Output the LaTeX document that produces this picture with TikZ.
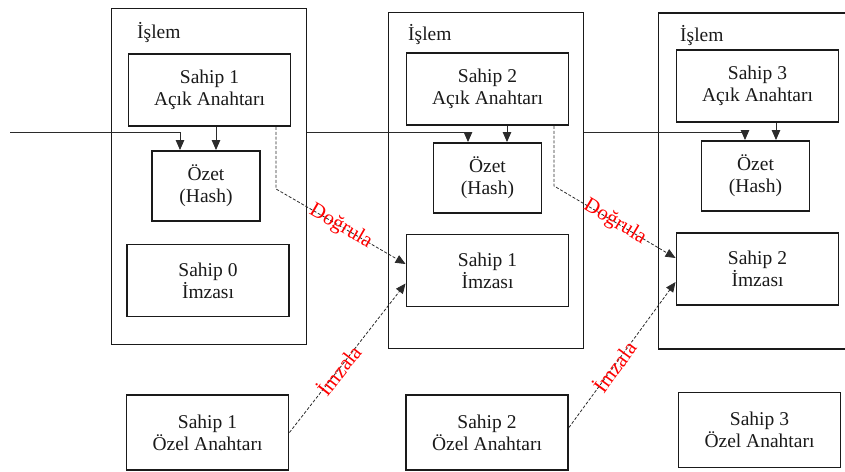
\documentclass[tikz,border=0pt]{standalone}
\usepackage{fontspec}
\setmainfont{Liberation Serif}
\usetikzlibrary{arrows.meta,calc}
\definecolor{txink}{HTML}{1A1A1A}
\definecolor{txline}{HTML}{2B2B2B}
\definecolor{txsign}{HTML}{FF0000}
\tikzset{
  txframe/.style={
    draw=txink,
    line width=1.9pt,
    minimum width=195pt,
    minimum height=336pt,
    inner sep=0pt
  },
  txkey/.style={
    draw=txink,
    line width=1.9pt,
    fill=white,
    align=center,
    minimum width=162pt,
    minimum height=72pt,
    inner sep=0pt,
    font=\fontsize{19.5}{22}\selectfont,
    text=txink
  },
  txhash/.style={txkey, minimum width=108pt, minimum height=70pt},
  txtitle/.style={
    anchor=base west,
    inner sep=0pt,
    font=\fontsize{19.5}{22}\selectfont,
    text=txink
  },
  txarrow/.style={
    -{Triangle[length=10pt,width=8.5pt]},
    line width=0.9pt,
    color=txline
  },
  txdash/.style={
    txarrow,
    line width=0.8pt,
    dash pattern=on 3pt off 1.8pt
  },
  txlabel/.style={
    sloped,
    inner sep=0pt,
    font=\fontsize{21}{24}\selectfont,
    text=txsign
  }
}
\begin{document}
\begin{tikzpicture}[x=1pt,y=-1pt]
  \useasboundingbox (0,0) rectangle (845,471);
  \clip (0,0) rectangle (845,471);

  % transactions
  \node[txframe] (t1) at (209,176.5) {};
  \node[txframe] (t2) at (486,180.5) {};
  \node[txframe] (t3) at (756,181) {};
  \node[txtitle] (lbl1) at (137,38) {İşlem};
  \node[txtitle] (lbl2) at (408,40) {İşlem};
  \node[txtitle] (lbl3) at (680,41) {İşlem};

  \node[txkey] (pub1) at (209.5,90) {Sahip 1\\Açık Anahtarı};
  \node[txhash] (hash1) at (206,186) {Özet\\(Hash)};
  \node[txkey] (sig1) at (208,280.5) {Sahip 0\\İmzası};

  \node[txkey] (pub2) at (487.5,89) {Sahip 2\\Açık Anahtarı};
  \node[txhash] (hash2) at (487.5,178) {Özet\\(Hash)};
  \node[txkey] (sig2) at (487.5,270.5) {Sahip 1\\İmzası};

  \node[txkey] (pub3) at (757.5,86) {Sahip 3\\Açık Anahtarı};
  \node[txhash] (hash3) at (755.5,176) {Özet\\(Hash)};
  \node[txkey] (sig3) at (757.5,269) {Sahip 2\\İmzası};

  % private keys
  \node[txkey, minimum height=75pt] (priv1) at (207.5,432.5) {Sahip 1\\Özel Anahtarı};
  \node[txkey, minimum height=75pt] (priv2) at (487,432.5) {Sahip 2\\Özel Anahtarı};
  \node[txkey, minimum height=75pt] (priv3) at (759.5,430) {Sahip 3\\Özel Anahtarı};

  % hash chain
  \coordinate (src) at (10,132);
  \draw[txarrow] (src) -| ([xshift=-26pt]hash1.north);
  \draw[txarrow] (t1.east |- src) -| ([xshift=-19.5pt]hash2.north);
  \draw[txarrow] (t2.east |- src) -| ([xshift=-10.5pt]hash3.north);
  \draw[txarrow] ([xshift=6.5pt]pub1.south) -- ([xshift=6.5pt]pub1.south |- hash1.north);
  \draw[txarrow] ([xshift=19.5pt]pub2.south) -- ([xshift=19.5pt]pub2.south |- hash2.north);
  \draw[txarrow] ([xshift=18.5pt]pub3.south) -- ([xshift=18.5pt]pub3.south |- hash3.north);

  % verify and sign
  \draw[txdash] ([xshift=66.5pt]pub1.south) -- ++(0,62)
    -- node[txlabel] {Doğrula} ([yshift=6.5pt]sig2.west);
  \draw[txdash] ([xshift=66.5pt]pub2.south) -- ++(0,60)
    -- node[txlabel] {Doğrula} ([yshift=11pt]sig3.west);
  \draw[txdash] (priv1.east) -- node[txlabel, pos=0.42] {İmzala} ([yshift=-13pt]sig2.west);
  \draw[txdash] ([yshift=5pt]priv2.east) -- node[txlabel, pos=0.42] {İmzala} ([yshift=-13pt]sig3.west);
\end{tikzpicture}
\end{document}
